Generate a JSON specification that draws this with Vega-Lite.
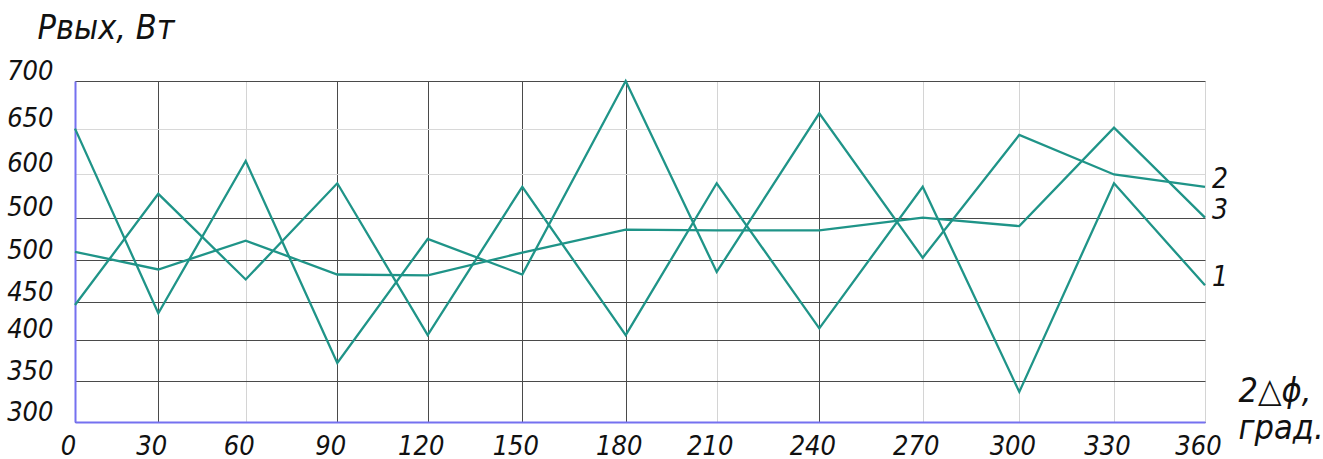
{
  "$schema": "https://vega.github.io/schema/vega-lite/v6.json",
  "width": 1130,
  "height": 341,
  "autosize": "none",
  "padding": {"left": 75, "top": 81, "right": 118, "bottom": 37},
  "background": "white",
  "config": {
    "view": {"stroke": null},
    "font": "Liberation Sans Narrow, DejaVu Sans Condensed, sans-serif"
  },
  "data": {
    "values": [
      {"angle": 0, "curve": "1", "p": 446},
      {"angle": 30, "curve": "1", "p": 577},
      {"angle": 60, "curve": "1", "p": 477},
      {"angle": 90, "curve": "1", "p": 589},
      {"angle": 120, "curve": "1", "p": 406},
      {"angle": 150, "curve": "1", "p": 585},
      {"angle": 180, "curve": "1", "p": 406},
      {"angle": 210, "curve": "1", "p": 589},
      {"angle": 240, "curve": "1", "p": 415},
      {"angle": 270, "curve": "1", "p": 585},
      {"angle": 300, "curve": "1", "p": 337},
      {"angle": 330, "curve": "1", "p": 589},
      {"angle": 360, "curve": "1", "p": 470},
      {"angle": 0, "curve": "2", "p": 650},
      {"angle": 30, "curve": "2", "p": 435},
      {"angle": 60, "curve": "2", "p": 614},
      {"angle": 90, "curve": "2", "p": 372},
      {"angle": 120, "curve": "2", "p": 525},
      {"angle": 150, "curve": "2", "p": 483},
      {"angle": 180, "curve": "2", "p": 700},
      {"angle": 210, "curve": "2", "p": 486},
      {"angle": 240, "curve": "2", "p": 666},
      {"angle": 270, "curve": "2", "p": 503},
      {"angle": 300, "curve": "2", "p": 643},
      {"angle": 330, "curve": "2", "p": 599},
      {"angle": 360, "curve": "2", "p": 585},
      {"angle": 0, "curve": "3", "p": 510},
      {"angle": 30, "curve": "3", "p": 489},
      {"angle": 60, "curve": "3", "p": 523},
      {"angle": 90, "curve": "3", "p": 483},
      {"angle": 120, "curve": "3", "p": 482},
      {"angle": 150, "curve": "3", "p": 509},
      {"angle": 180, "curve": "3", "p": 536},
      {"angle": 210, "curve": "3", "p": 535},
      {"angle": 240, "curve": "3", "p": 535},
      {"angle": 270, "curve": "3", "p": 550},
      {"angle": 300, "curve": "3", "p": 540},
      {"angle": 330, "curve": "3", "p": 651},
      {"angle": 360, "curve": "3", "p": 550}
    ]
  },
  "encoding": {
    "x": {
      "field": "angle",
      "type": "quantitative",
      "scale": {
        "domain": [0, 30, 60, 90, 120, 150, 180, 210, 240, 270, 300, 330, 360],
        "range": [0, 83.3, 170.7, 262.3, 352.7, 447.3, 550.7, 641.7, 744.3, 847.7, 944.3, 1039, 1130]
      },
      "axis": {
        "values": [0, 30, 60, 90, 120, 150, 180, 210, 240, 270, 300, 330, 360],
        "ticks": false,
        "domainColor": "#7571f0",
        "domainWidth": 2,
        "gridColor": {
          "condition": {"test": "indexof([60, 210, 270, 300, 330, 360], datum.value) >= 0", "value": "#d4d4d4"},
          "value": "#4a4a4a"
        },
        "gridWidth": 1,
        "labelFont": "Liberation Sans Narrow, DejaVu Sans Condensed, sans-serif",
        "labelFontStyle": "italic",
        "labelFontSize": 27,
        "labelColor": "#111",
        "labelPadding": 11,
        "labelOffset": -7,
        "labelFlush": false,
        "labelOverlap": false,
        "title": ["2△ϕ,", "град."],
        "titleFont": "Liberation Sans Narrow, DejaVu Sans Condensed, sans-serif",
        "titleFontStyle": "italic",
        "titleFontWeight": "normal",
        "titleFontSize": 34,
        "titleColor": "#111",
        "titleAlign": "left",
        "titleBaseline": "top",
        "titleLineHeight": 37,
        "titleX": 1163,
        "titleY": -48
      }
    },
    "y": {
      "field": "p",
      "type": "quantitative",
      "scale": {
        "domain": [300, 350, 400, 450, 500, 550, 600, 650, 700],
        "range": [341, 300.3, 258.6, 221, 179.3, 136.6, 92.6, 47.6, 0]
      },
      "axis": {
        "values": [300, 350, 400, 450, 500, 550, 600, 650, 700],
        "ticks": false,
        "domainColor": "#7571f0",
        "domainWidth": 2,
        "gridColor": {
          "condition": {"test": "indexof([600, 650], datum.value) >= 0", "value": "#d8d8d8"},
          "value": "#4a4a4a"
        },
        "gridWidth": 1,
        "labelExpr": "datum.value == 550 ? '500' : datum.label",
        "labelFont": "Liberation Sans Narrow, DejaVu Sans Condensed, sans-serif",
        "labelFontStyle": "italic",
        "labelFontSize": 27,
        "labelColor": "#111",
        "labelPadding": 22,
        "labelBaseline": "alphabetic",
        "labelOffset": -2,
        "labelFlush": false,
        "labelOverlap": false,
        "title": "Pвых, Вт",
        "titleFont": "Liberation Sans Narrow, DejaVu Sans Condensed, sans-serif",
        "titleFontStyle": "italic",
        "titleFontWeight": "normal",
        "titleFontSize": 34,
        "titleColor": "#111",
        "titleAngle": 0,
        "titleAlign": "left",
        "titleBaseline": "top",
        "titleX": -38,
        "titleY": -70
      }
    }
  },
  "layer": [
    {
      "mark": {"type": "line", "color": "#1f9488", "strokeWidth": 2.3},
      "encoding": {"detail": {"field": "curve"}}
    },
    {
      "transform": [{"filter": "datum.angle == 360"}],
      "mark": {
        "type": "text",
        "align": "left",
        "baseline": "middle",
        "dx": 7,
        "dy": -7,
        "fontSize": 28,
        "fontStyle": "italic",
        "color": "#111"
      },
      "encoding": {"text": {"field": "curve"}}
    }
  ]
}
